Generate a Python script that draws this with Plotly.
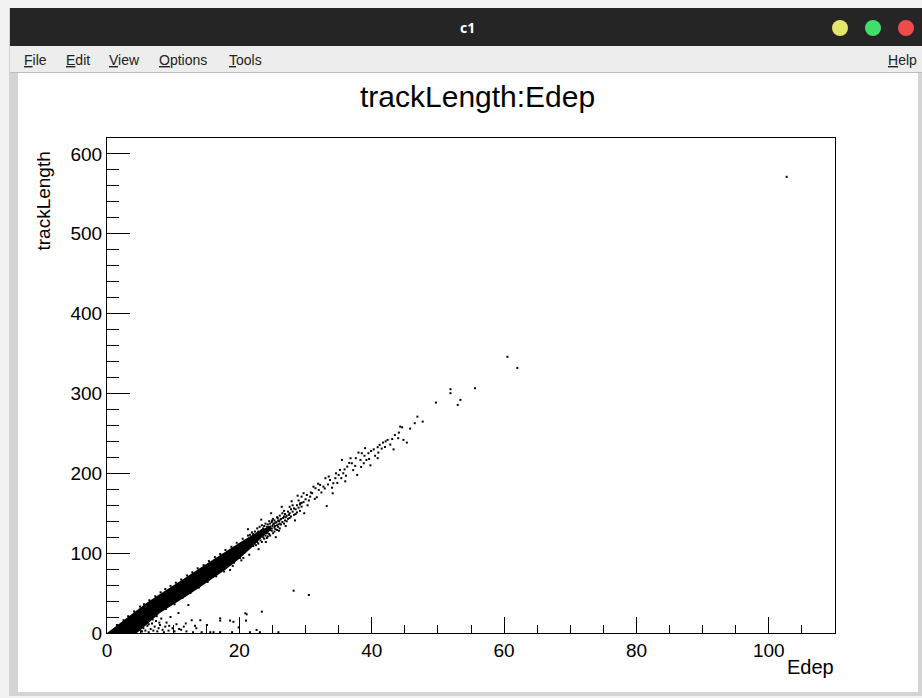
import plotly.graph_objects as go

# ---------------- data ----------------
# saturated core of the dense band (outline, Edep / trackLength)
core_edep = [0, 2, 4, 6, 8, 10, 12, 14, 16, 18, 20, 22, 23.5, 24.8,
             24.8, 23.5, 22, 20, 18, 16, 14, 12, 10, 8, 7, 6, 5, 4.5, 0]
core_track = [0, 12.5, 26, 38, 49, 59, 70, 81, 92, 103, 113, 123, 130, 135,
              129, 121, 108, 93, 80, 68, 57, 46, 36, 25, 18, 10, 3, 0, 0]

edge_pts = [(1.5, 10), (2.5, 16), (3.2, 21), (4.1, 27), (5.0, 33), (5.6, 36), (6.4, 41),
            (7.3, 46), (8.1, 51), (8.8, 55), (9.6, 59), (10.4, 63), (11.2, 67), (12.1, 72),
            (12.9, 76), (13.7, 81), (14.6, 85), (15.4, 90), (16.3, 95), (17.1, 99),
            (17.9, 104), (18.8, 108), (19.6, 113), (20.5, 118), (21.3, 122),
            (5.3, 2), (6.3, 11), (7.5, 21), (8.9, 30), (10.2, 36), (11.4, 44), (12.6, 50),
            (13.9, 57), (15.2, 64), (16.5, 71), (17.7, 77), (19.0, 84), (20.3, 91), (21.5, 98)]

band_pts = [(21.6, 118), (21.6, 108), (21.6, 123), (21.6, 111), (21.9, 113), (21.9, 126),
            (21.9, 119), (22.1, 109), (22.1, 121), (22.1, 115), (22.1, 124), (22.35, 127),
            (22.35, 113), (22.35, 117), (22.5, 122), (22.5, 110), (22.5, 116), (22.7, 131),
            (22.7, 118), (22.7, 114), (22.7, 125), (22.85, 112), (22.85, 120), (22.85, 127),
            (23.05, 119), (23.05, 133), (23.05, 124), (23.2, 116), (23.2, 128), (23.2, 121),
            (23.4, 114), (23.4, 129), (23.4, 126), (23.4, 135), (23.6, 120), (23.6, 131),
            (23.6, 123), (23.75, 118), (23.75, 134), (23.75, 128), (23.95, 130), (23.95, 122),
            (23.95, 137), (24.15, 125), (24.15, 119), (24.15, 133), (24.3, 136), (24.3, 127),
            (24.3, 121), (24.5, 133), (24.5, 124), (24.5, 140), (24.65, 129), (24.65, 137),
            (24.65, 122), (24.9, 128), (24.9, 139), (24.9, 131), (25.1, 136), (25.1, 125),
            (25.1, 143), (25.3, 132), (25.3, 141), (25.3, 127), (25.45, 138), (25.45, 130),
            (25.7, 135), (25.7, 145), (25.7, 129), (25.85, 141), (25.85, 133), (26.1, 137),
            (26.1, 147), (26.1, 131), (26.3, 143), (26.3, 136), (26.5, 139), (26.5, 150),
            (26.75, 146), (26.75, 137), (26.75, 153), (26.9, 141), (26.9, 149), (27.15, 147),
            (27.15, 140), (27.35, 152), (27.35, 143), (27.6, 150), (27.6, 144), (27.6, 158),
            (27.8, 146), (27.8, 155), (28.05, 152), (28.05, 160), (28.25, 148), (28.25, 156),
            (28.5, 155), (28.5, 149), (28.7, 160), (28.7, 151), (28.95, 157), (28.95, 166),
            (29.15, 153), (29.15, 161), (29.4, 163),
            (25.0, 134), (25.25, 137), (25.6, 139), (25.9, 136), (26.2, 142), (26.6, 144),
            (27.0, 145), (27.5, 148), (26.0, 140), (25.4, 134), (24.95, 141), (25.8, 144),
            (22.9, 105), (24.0, 114), (25.5, 120), (26.0, 128), (27.0, 134), (28.4, 141),
            (27.9, 165), (26.4, 158), (24.8, 150), (23.3, 142), (21.3, 130), (20.6, 94),
            (19.2, 88), (18.6, 79), (20.1, 94), (29.8, 150), (28.8, 172)]

tail_pts = [(29.2, 162.5), (29.4, 170.8), (29.4, 158.3), (29.7, 175.1), (29.7, 164),
            (30.0, 167.5), (30.2, 172.9), (30.5, 166), (30.7, 170.8), (31.0, 175.1),
            (31.2, 183.3), (31.5, 181.3), (31.7, 170), (32.0, 179.2), (32.2, 185.5),
            (32.7, 183.3), (33.0, 193.9), (33.2, 159), (33.7, 191.7), (34.1, 175),
            (34.2, 187.6), (34.5, 193.9), (35.0, 198), (35.2, 204.3), (35.5, 216.8),
            (35.7, 200.1), (36.3, 208.4), (36.8, 218.9), (37.0, 212.6), (37.5, 209.3),
            (37.8, 198), (38.0, 226), (38.3, 216.8), (38.5, 225.2), (38.8, 212.6),
            (39.0, 231.5), (39.2, 216.8), (39.5, 225.2), (40.3, 230), (40.9, 219),
            (40.9, 232.7), (41.2, 235.6), (41.7, 238.5), (42.1, 240), (42.4, 241.9),
            (43.1, 243), (44.1, 251), (44.3, 258.5), (44.6, 257.6), (44.8, 241.9),
            (45.3, 238.5), (46.5, 262.8), (46.9, 271), (47.7, 264.8), (49.7, 288.6),
            (51.9, 305.4), (51.9, 300.4), (53.0, 285.7), (53.4, 292), (55.6, 306.6),
            (60.5, 345.9), (62.0, 332), (102.7, 571.4),
            (30.3, 160), (30.8, 176), (31.4, 168), (31.9, 187), (32.4, 176), (32.9, 181),
            (33.4, 186), (33.5, 196), (34.0, 182), (34.6, 200), (34.8, 188), (35.4, 194),
            (35.9, 205), (36.1, 197), (36.6, 213), (37.2, 204), (37.6, 219), (38.4, 208),
            (38.9, 222), (39.6, 218), (39.9, 228), (40.5, 222), (41.0, 226), (41.5, 231),
            (42.0, 233), (42.8, 236), (43.5, 248), (44.0, 244), (45.8, 256), (43.3, 230),
            (36.0, 190), (39.8, 210)]

low_pts = [(5.2, 2), (5.5, 6), (5.8, 3), (6.1, 9), (6.3, 1), (6.6, 5), (6.8, 12), (7.0, 3),
           (7.2, 8), (7.4, 15), (7.6, 2), (7.8, 6), (8.0, 10), (8.2, 18), (8.4, 4), (8.6, 1),
           (8.8, 8), (9.0, 13), (9.3, 3), (9.6, 20), (9.9, 6), (10.2, 2), (10.5, 11),
           (10.8, 25), (11.2, 4), (11.6, 8), (12.0, 2), (12.3, 35), (12.8, 16), (13.0, 1),
           (13.5, 6), (14.1, 16), (14.3, 1), (15.1, 10), (15.6, 1), (16.1, 1), (17.1, 15.5),
           (17.1, 18.4), (17.1, 1), (18.6, 15.5), (18.9, 1), (19.1, 14), (19.9, 7),
           (20.9, 24.7), (21.0, 15.5), (21.1, 23.4), (21.6, 1), (22.6, 3.8), (23.1, 1),
           (23.4, 26.7), (25.9, 1), (28.2, 53), (30.5, 47.6),
           (5.9, 14), (6.9, 17), (7.9, 13), (9.4, 9), (10.9, 5), (11.9, 12), (13.3, 9)]

x_ticks = [0, 20, 40, 60, 80, 100]
y_ticks = [0, 100, 200, 300, 400, 500, 600]
x_range = [0, 110]
y_range = [0, 620]

# ---------------- figure ----------------
W, H = 922, 698
L, R, T, B = 107, 835, 138, 633  # plot frame in pixels
FONT = "Liberation Sans, Arial, Helvetica"


def px(x):
    return (x - L) / (R - L)


def py(y):
    return (B - y) / (B - T)


fig = go.Figure()

fig.add_trace(go.Scatter(x=core_edep, y=core_track, mode="lines", fill="toself",
                         fillcolor="black", line=dict(width=0, color="black"),
                         hoverinfo="skip", showlegend=False))

all_pts = edge_pts + band_pts + tail_pts + low_pts
xs, ys = zip(*all_pts)
fig.add_trace(go.Scatter(x=list(xs), y=list(ys), mode="markers",
                         marker=dict(symbol="square", size=2, color="black",
                                     line=dict(width=0)),
                         showlegend=False))

shapes = []
shapes.append(dict(type="rect", xref="paper", yref="paper", layer="below",
                   x0=px(0), x1=px(W), y0=py(H), y1=py(0),
                   fillcolor="#f2f2f2", line=dict(width=0)))
shapes.append(dict(type="rect", xref="paper", yref="paper", layer="below",
                   x0=px(9), x1=px(W), y0=py(696), y1=py(8),
                   fillcolor="#d4d4d4", line=dict(width=0)))
shapes.append(dict(type="rect", xref="paper", yref="paper", layer="below",
                   x0=px(10), x1=px(W), y0=py(46), y1=py(8),
                   fillcolor="#252525", line=dict(width=0)))
shapes.append(dict(type="rect", xref="paper", yref="paper", layer="below",
                   x0=px(10), x1=px(W), y0=py(72), y1=py(46),
                   fillcolor="#ededed", line=dict(width=0)))
shapes.append(dict(type="line", xref="paper", yref="paper", layer="below",
                   x0=px(10), x1=px(W), y0=py(72.5), y1=py(72.5),
                   line=dict(color="#bdbdbd", width=1)))
shapes.append(dict(type="rect", xref="paper", yref="paper", layer="below",
                   x0=px(18), x1=px(918), y0=py(692), y1=py(73),
                   fillcolor="white", line=dict(width=0)))
for cx, col in [(840, "#e5e56a"), (873, "#3ee06a"), (906, "#f04b4b")]:
    shapes.append(dict(type="circle", xref="paper", yref="paper",
                       x0=px(cx - 8), x1=px(cx + 8), y0=py(36), y1=py(20),
                       fillcolor=col, line=dict(width=0)))

annotations = []
annotations.append(dict(text="<b>c1</b>", x=px(467), y=py(28), xref="paper", yref="paper",
                        showarrow=False, font=dict(family="Open Sans, DejaVu Sans", size=14,
                                                   color="white"),
                        xanchor="center", yanchor="middle"))
menu = [("<u>F</u>ile", 22), ("<u>E</u>dit", 64), ("<u>V</u>iew", 107),
        ("<u>O</u>ptions", 157), ("<u>T</u>ools", 227)]
for txt, mx in menu:
    annotations.append(dict(text=txt, x=px(mx), y=py(60), xref="paper", yref="paper",
                            showarrow=False, xanchor="left", yanchor="middle",
                            font=dict(family=FONT, size=14, color="#222222")))
annotations.append(dict(text="<u>H</u>elp", x=px(919), y=py(60), xref="paper", yref="paper",
                        showarrow=False, xanchor="right", yanchor="middle",
                        font=dict(family=FONT, size=14, color="#222222")))
annotations.append(dict(text="trackLength:Edep", x=px(477), y=py(97), xref="paper",
                        yref="paper", showarrow=False, xanchor="center", yanchor="middle",
                        font=dict(family=FONT, size=30, color="black")))
annotations.append(dict(text="trackLength", x=px(43), y=py(150), xref="paper", yref="paper",
                        showarrow=False, textangle=-90, xanchor="center", yanchor="top",
                        font=dict(family=FONT, size=19, color="black")))
annotations.append(dict(text="Edep", x=px(836), y=py(667), xref="paper", yref="paper",
                        showarrow=False, xanchor="right", yanchor="middle",
                        font=dict(family=FONT, size=20, color="black")))

fig.update_layout(
    width=W, height=H,
    margin=dict(l=L, r=W - R, t=T, b=H - B, pad=0),
    paper_bgcolor="white", plot_bgcolor="white",
    shapes=shapes, annotations=annotations,
    showlegend=False,
    font=dict(family=FONT, size=19, color="black"),
)
fig.update_xaxes(range=x_range, tickvals=x_ticks, ticktext=[str(v) for v in x_ticks],
                 ticks="inside", ticklen=16, tickwidth=1, tickcolor="black",
                 minor=dict(ticks="inside", ticklen=8, dtick=5, tickcolor="black",
                            showgrid=False),
                 showline=True, linecolor="black", linewidth=1, mirror=True,
                 showgrid=False, zeroline=False,
                 tickfont=dict(family=FONT, size=19, color="black"))
fig.update_yaxes(range=y_range, tickvals=y_ticks, ticktext=[str(v) for v in y_ticks],
                 ticks="inside", ticklen=23, tickwidth=1, tickcolor="black",
                 minor=dict(ticks="inside", ticklen=12, dtick=20, tickcolor="black",
                            showgrid=False),
                 showline=True, linecolor="black", linewidth=1, mirror=True,
                 showgrid=False, zeroline=False,
                 tickfont=dict(family=FONT, size=19, color="black"))

fig.write_html("out.html")
